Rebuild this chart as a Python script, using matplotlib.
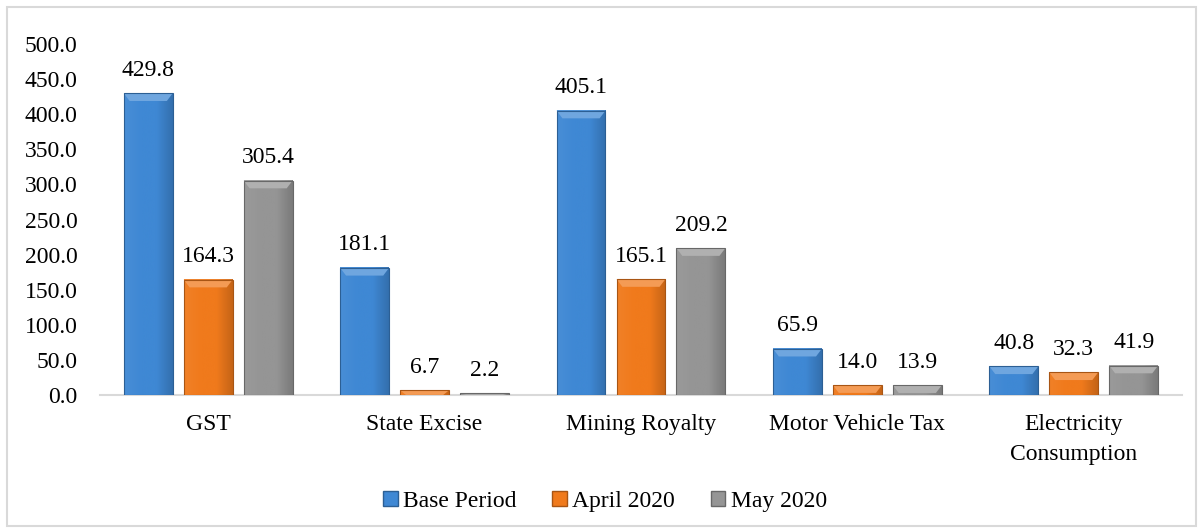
import numpy as np
import matplotlib.pyplot as plt
import matplotlib.colors as mcolors
from matplotlib.patches import Polygon, Rectangle, Patch

categories = ["GST", "State Excise", "Mining Royalty", "Motor Vehicle Tax", "Electricity\nConsumption"]
series_names = ["Base Period", "April 2020", "May 2020"]
base_period = [429.8, 181.1, 405.1, 65.9, 40.8]
april_2020 = [164.3, 6.7, 165.1, 14.0, 32.3]
may_2020 = [305.4, 2.2, 209.2, 13.9, 41.9]
colors = ["#3f88d4", "#f07a1c", "#959595"]

plt.rcParams['font.family'] = ['Liberation Serif', 'DejaVu Serif']

fig = plt.figure(figsize=(12.03, 5.32), dpi=100)
ax = fig.add_axes([0.0831, 0.2575, 0.8994, 0.6598])

# light frame round the whole chart
fig.patches.append(Rectangle((0.006, 0.012), 0.988, 0.975, transform=fig.transFigure,
                             fill=False, edgecolor="#d9d9d9", linewidth=1.5))

x = np.arange(len(categories))
width = 0.226
offset = 0.277


def shade(col, f):
    r, g, b = mcolors.to_rgb(col)
    if f >= 0:
        return (r + (1 - r) * f, g + (1 - g) * f, b + (1 - b) * f)
    return (r * (1 + f), g * (1 + f), b * (1 + f))


def bevel_bar(ax, bar, col):
    # soft gradient inside the bar plus a lighter top bevel
    x0, w, h = bar.get_x(), bar.get_width(), bar.get_height()
    grad = np.linspace(0, 1, 64)
    cmap = mcolors.LinearSegmentedColormap.from_list(
        "g", [shade(col, 0.05), col, col, shade(col, -0.18)])
    ax.imshow(grad[np.newaxis, :], extent=(x0, x0 + w, 0, h), aspect="auto",
              cmap=cmap, zorder=2, interpolation="bicubic")
    bh = min(11.0, h)
    bw = w * 0.12
    top = Polygon([(x0, h), (x0 + w, h), (x0 + w - bw, h - bh), (x0 + bw, h - bh)],
                  closed=True, facecolor=shade(col, 0.25), edgecolor="none", zorder=3)
    ax.add_patch(top)
    ax.add_patch(Rectangle((x0, 0), w, h, fill=False, edgecolor=shade(col, -0.3),
                           linewidth=0.8, zorder=4))


for i, (vals, col) in enumerate(zip([base_period, april_2020, may_2020], colors)):
    bars = ax.bar(x + (i - 1) * offset, vals, width, color=col, zorder=1)
    for b, v in zip(bars, vals):
        bevel_bar(ax, b, col)
        ax.annotate(f"{v:.1f}", (b.get_x() + b.get_width() / 2, v),
                    xytext=(0, 9), textcoords="offset points",
                    ha="center", va="bottom", fontsize=17)

ax.set_xlim(-0.5, len(categories) - 0.5)
ax.set_ylim(0, 500)
ax.set_yticks(np.arange(0, 501, 50))
ax.set_yticklabels([f"{t:.1f}" for t in np.arange(0, 501, 50)], fontsize=17)
ax.set_xticks(x)
ax.set_xticklabels(categories, fontsize=17, linespacing=1.55)
ax.tick_params(axis="both", length=0)
ax.tick_params(axis="x", pad=14)
ax.tick_params(axis="y", pad=16)

for s in ["top", "right", "left"]:
    ax.spines[s].set_visible(False)
ax.spines["bottom"].set_color("#d9d9d9")
ax.spines["bottom"].set_linewidth(1.5)
ax.spines["bottom"].set_zorder(0)

handles = [Patch(facecolor=c, edgecolor=shade(c, -0.3)) for c in colors]
fig.legend(handles, series_names, loc="center", bbox_to_anchor=(0.503, 0.058), ncol=3,
           frameon=False, fontsize=17, handlelength=0.6, handleheight=0.6,
           handletextpad=0.25, columnspacing=1.5)

fig.savefig("out.png", dpi=100)
